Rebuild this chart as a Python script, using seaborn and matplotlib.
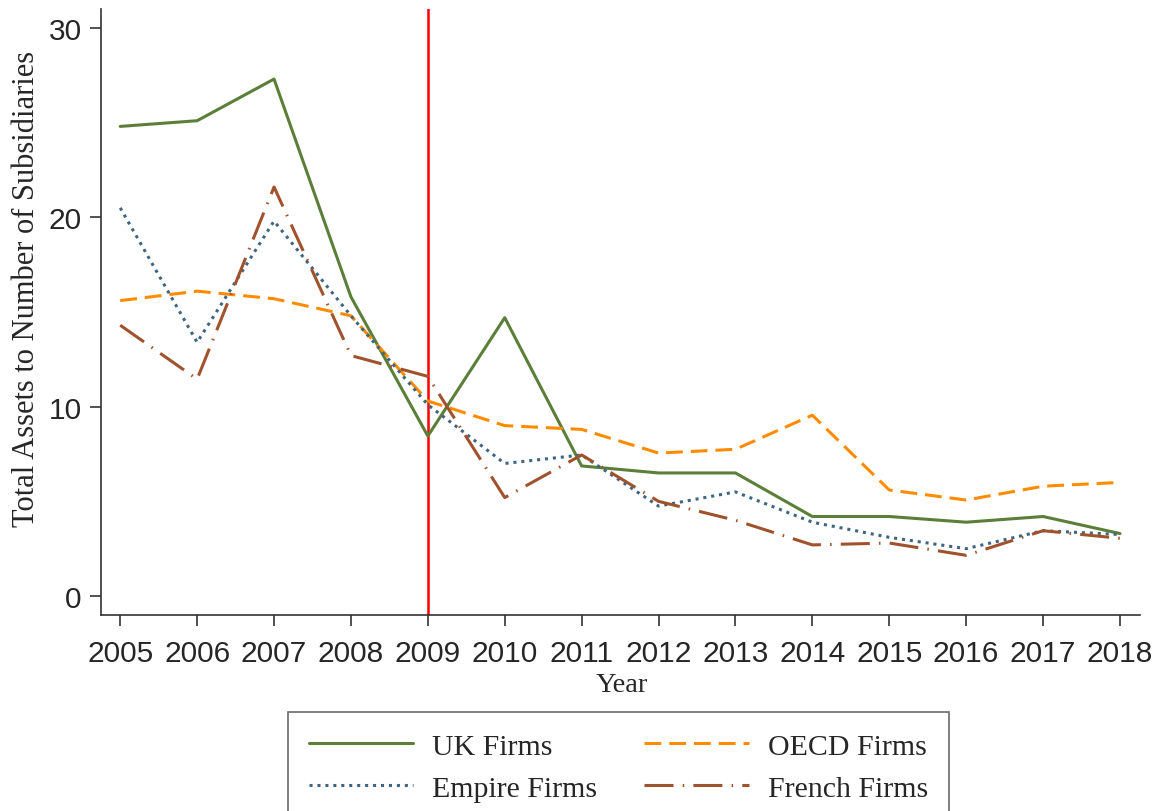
import pandas as pd
import matplotlib
matplotlib.use("Agg")
import matplotlib.pyplot as plt
import seaborn as sns

years = list(range(2005, 2019))
uk_firms = [24.8, 25.1, 27.3, 15.8, 8.45, 14.7, 6.87, 6.5, 6.5, 4.2, 4.2, 3.9, 4.2, 3.3]
oecd_firms = [15.6, 16.1, 15.7, 14.8, 10.3, 9.0, 8.8, 7.55, 7.75, 9.55, 5.6, 5.07, 5.8, 6.0]
empire_firms = [20.5, 13.4, 19.8, 14.8, 10.1, 7.0, 7.45, 4.75, 5.5, 3.9, 3.1, 2.5, 3.45, 3.25]
french_firms = [14.3, 11.45, 21.6, 12.7, 11.6, 5.2, 7.45, 5.0, 4.0, 2.7, 2.8, 2.15, 3.45, 3.05]

series_names = ["UK Firms", "OECD Firms", "Empire Firms", "French Firms"]
colors = {"UK Firms": "#5b7f39", "OECD Firms": "#ff8c00",
          "Empire Firms": "#3f6580", "French Firms": "#a0522d"}
dashes = {"UK Firms": "", "OECD Firms": (5.5, 2.6),
          "Empire Firms": (1, 1.6), "French Firms": (9.5, 3, 0.5, 3)}

df = pd.DataFrame({"year": years, "UK Firms": uk_firms, "OECD Firms": oecd_firms,
                   "Empire Firms": empire_firms, "French Firms": french_firms})
long_df = df.melt(id_vars="year", var_name="group", value_name="value")

sns.set_style("ticks")
fig = plt.figure(figsize=(11.65, 8.12), dpi=100)
ax = fig.add_axes([0.0867, 0.2414, 0.8918, 0.7463])

sns.lineplot(data=long_df, x="year", y="value", hue="group", style="group",
             hue_order=series_names, style_order=series_names,
             palette=colors, dashes=dashes, linewidth=2.2, ax=ax, legend=False)

ax.axvline(2009, color="#ff0000", linewidth=1.8, zorder=0)

ax.set_xlim(2004.75, 2018.26)
ax.set_ylim(-1, 31)
ax.set_xticks(years)
ax.set_yticks([0, 10, 20, 30])
sans = ["Liberation Sans", "DejaVu Sans"]
serif = ["Liberation Serif", "DejaVu Serif"]
ax.set_xticklabels([str(y) for y in years], fontsize=21.5, family=sans)
ax.set_yticklabels(["0", "10", "20", "30"], fontsize=21.5, family=sans)
ax.tick_params(axis="x", length=8, width=1.2, color="#333333", pad=9)
ax.tick_params(axis="y", length=8, width=1.2, color="#333333", pad=6)
ax.set_xlabel("Year", fontsize=20.5, family=serif)
ax.set_ylabel("Total Assets to Number of Subsidiaries", fontsize=22, family=serif)
ax.xaxis.set_label_coords(0.5015, -0.094)
ax.yaxis.set_label_coords(-0.058, 0.54)
for side in ["top", "right"]:
    ax.spines[side].set_visible(False)
for side in ["left", "bottom"]:
    ax.spines[side].set_linewidth(1.2)
    ax.spines[side].set_color("#333333")

handles = [plt.Line2D([], [], color=colors[n], linewidth=2.2,
                      linestyle="-" if dashes[n] == "" else (0, dashes[n]))
           for n in series_names]
# order so that the two columns read UK/Empire, OECD/French
order = [0, 2, 1, 3]
leg = fig.legend([handles[i] for i in order], [series_names[i] for i in order],
                 loc="upper left", bbox_to_anchor=(0.2472, 0.1219), borderaxespad=0,
                 ncol=2, frameon=True, fancybox=False, edgecolor="#444444",
                 prop={"family": serif, "size": 21.5}, handlelength=3.5,
                 handletextpad=0.63, columnspacing=1.57, borderpad=0.7,
                 labelspacing=0.5)
leg.get_frame().set_linewidth(1.2)

fig.savefig("out.png", dpi=100)
